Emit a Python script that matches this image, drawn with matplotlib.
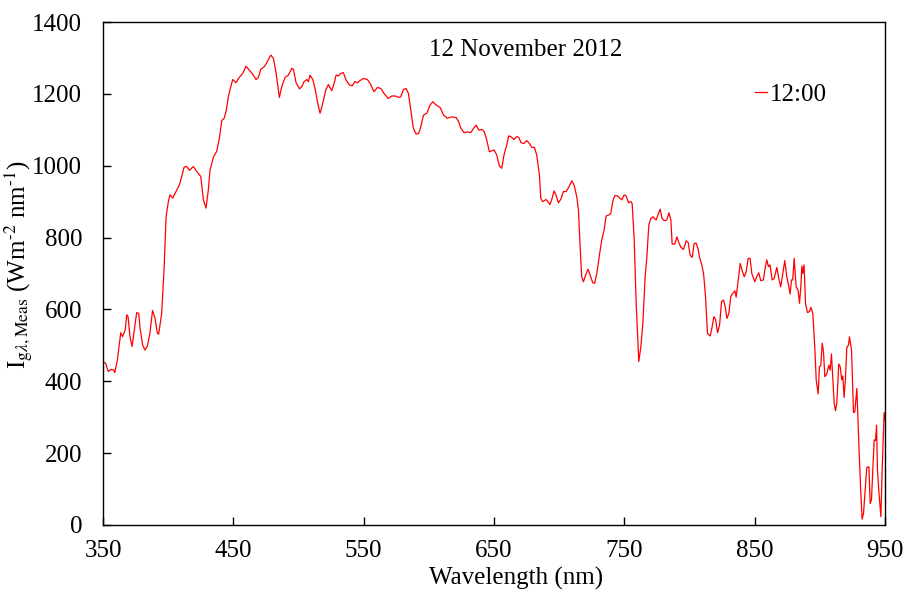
import matplotlib
matplotlib.use("Agg")
import matplotlib.pyplot as plt

plt.rcParams["font.family"] = ["Liberation Serif", "DejaVu Serif"]
plt.rcParams["mathtext.fontset"] = "stix"

# spectral irradiance, 12:00
wavelength = [
    350, 352, 354, 356, 358, 359, 361, 363.6, 365, 367, 368.2, 369.2, 370.7, 372.3,
    374.3, 375.8, 377.4, 378.4, 380.4, 382.2, 384, 386, 388, 389.9, 391.7, 392.7,
    395, 396.8, 398.4, 400.1, 401.4, 403.5, 406, 408.6, 410.4, 412.2, 414.2, 416.3,
    419.3, 421.9, 425, 427, 429, 430.8, 432.1, 434.7, 437.2, 439.3, 441.1, 442.9,
    444.4, 446.2, 448,
    449.5, 452, 453.9, 457.2, 459.7, 462.3, 464.8, 467.4, 469.2, 471, 473.8, 476.1,
    478.7, 480.7, 482.8, 485.3, 487.1, 489.7, 492.2, 494.8, 496.1, 498.1, 500.7,
    502.5, 504.2, 506.3, 507.6, 508.8, 510.9, 512.9, 514.5, 516.5, 518.6, 520.9,
    522.9, 525.5, 527.3, 528.8, 530.6, 532.4, 534.4, 536.5, 539, 541.1, 543.1,
    545.2, 547.2,
    549.8, 552.8, 554.9, 557.9, 560.5, 563.1, 565.6, 568.7, 571.5, 574.3, 576.6,
    578.4, 580.5, 582.5, 584.3, 586.1, 588.1, 590.2, 592.2, 593.8, 595.8, 598.4,
    600.9, 603, 605.5, 608.6, 611.2, 614.2, 617.5, 620.9, 622.9, 624.5, 627, 629.6,
    632.1, 634.2, 636.2, 638.3, 640.6, 642.4, 644.4, 646.4,
    650, 652, 654.1, 655.9, 657.6, 659.7, 661.2, 662.8, 665.3, 667.4, 668.9, 670.7,
    673, 675, 677.1, 678.9, 680.9, 682.7, 684.8, 685.8, 687.3, 689.9, 692.9, 694.5,
    696, 697.5, 699.3, 701.1, 703.2, 705.2, 707.3, 709.6, 711.4, 713.4, 714.7, 716,
    717.2, 718.5, 720.3, 722.1, 723.6, 725.7, 727.2, 728.8, 730.8, 732.6, 734.4,
    735.9, 738, 739.5, 741, 742.6, 744.6, 746.7,
    748, 749.8, 751.3, 753.1, 754.9, 755.9, 757.4, 759, 761, 762.6, 764.1, 765.9,
    767.2, 768.7, 770.2, 771.8, 774.3, 776.1, 777.4, 778.9, 780.5, 782.5, 784.1,
    785.6, 786.6, 788.7, 790.2, 791.7, 793.3, 795.3, 797.4, 798.9, 800.4, 802,
    803.5, 805, 806.6, 807.6, 809.1, 810.7, 812.2, 813.7, 815.8, 817.3, 818.6,
    819.9, 821.4, 823, 824.5, 826, 827.3, 828.6, 830.1, 831.6, 833.2, 834.7, 835.7,
    837.3, 838.8, 840.3, 841.9, 843.4, 844.9,
    846.4, 847.7, 850, 851.5, 853, 854.6, 856.6, 857.7, 859.2, 860.5, 861.7, 863.3,
    864.8, 866.9, 868.4, 869.9, 871.5, 873, 874.5, 875.6, 877.1, 878.1, 879.1,
    880.2, 881.7, 883.2, 884.3, 885.3, 886.1, 886.8, 887.8, 888.9, 890.4, 891.9,
    893, 894.5, 896, 897.1, 898.6, 899.6, 900.6, 901.7, 902.7, 903.7, 905.2, 906.8,
    907.8, 908.8, 909.8, 910.9, 911.9, 912.9, 914.4, 915.5, 916.7, 917.5, 918.5,
    919.6, 920.6, 921.9, 922.6, 924.2, 925.7, 926.7, 928.3, 929.8, 931.1, 932.3,
    933.4, 934.9, 935.9, 937.5, 938.5, 939.5, 940.5, 941.6, 942.6, 943.4, 944.1,
    945.1, 946.7, 947.7, 949.2, 950,
]
irradiance = [
    455, 450, 427, 433, 432, 424, 459, 535, 524, 543, 585, 580, 524, 497,
    552, 591, 589, 548, 501, 487, 498, 534, 597, 575, 534, 531,
    589, 710, 858, 900, 919, 910, 928, 947, 970, 996, 998, 987,
    998, 984, 970, 905, 882, 933, 988, 1024, 1040, 1077, 1126, 1132,
    1151, 1193, 1220,
    1240, 1231, 1243, 1257, 1277, 1266, 1255, 1240, 1246, 1268, 1276, 1290,
    1308, 1299, 1257, 1190, 1220, 1246, 1252, 1271, 1268, 1231, 1214,
    1220, 1234, 1240, 1234, 1252, 1240, 1211, 1178, 1146, 1174, 1211,
    1226, 1209, 1229, 1252, 1250, 1257, 1259, 1238, 1225, 1222, 1234,
    1231, 1237,
    1243, 1240, 1229, 1206, 1218, 1215, 1201, 1187, 1194, 1194, 1190,
    1192, 1212, 1215, 1201, 1155, 1104, 1088, 1090, 1109, 1141, 1146,
    1169, 1178, 1169, 1162, 1141, 1132, 1136, 1134, 1122, 1104, 1092, 1094,
    1092, 1104, 1113, 1099, 1101, 1095, 1071, 1039,
    1044, 1030, 999, 993, 1030, 1058, 1083, 1081, 1073, 1081, 1079, 1064,
    1062, 1070, 1062, 1051, 1051, 1030, 974, 909, 900, 906, 892, 909,
    930, 918, 897, 906, 928, 928, 940, 958, 946, 914, 877, 775,
    691, 677, 696, 712, 696, 674, 673, 700, 751, 793, 821,
    860, 863, 867, 900, 917, 916, 909,
    905, 919, 916, 897, 900, 895, 802, 617, 455, 496, 561, 691,
    747, 835, 853, 858, 849, 867, 879, 853, 847, 849, 869,
    849, 782, 782, 802, 786, 773, 767, 791, 786, 751, 745,
    784, 784, 767, 745, 728, 700, 635, 533, 526, 552, 580,
    572, 535, 557, 622, 626, 608, 575, 589, 637, 645, 652, 634,
    682, 728, 708, 691, 705, 742,
    742, 700, 677, 691, 702, 680, 682, 710, 738, 719, 724, 682,
    686, 717, 686, 663, 700, 736, 691, 673, 643, 682, 682,
    742, 663, 654, 617, 663, 721, 700, 724, 617, 591, 594,
    606, 589, 496, 404, 365, 441, 443, 506, 482, 413, 420, 445,
    431, 476, 413, 339, 318, 339, 448, 441, 404, 415, 355,
    413, 494, 501, 524, 487, 313, 315, 380, 227, 107, 16,
    32, 107, 160, 162, 60, 70, 153, 237, 235, 278, 153,
    97, 23, 153, 313, 290,
]
x_ticks = [350, 450, 550, 650, 750, 850, 950]
y_ticks = [0, 200, 400, 600, 800, 1000, 1200, 1400]

fig = plt.figure(figsize=(9.06, 5.92), dpi=100)
ax = fig.add_axes([0.1137, 0.1132, 0.8633, 0.8496])

ax.plot(wavelength, irradiance, color="#ff0000", linewidth=0.9, label="12:00")

ax.set_xlim(350, 950)
ax.set_ylim(0, 1400)
ax.set_xticks(x_ticks)
ax.set_yticks(y_ticks)
ax.tick_params(axis="both", direction="in", length=6, width=1, labelsize=18)
ax.tick_params(axis="x", pad=11)
ax.tick_params(axis="y", pad=15)
for s in ax.spines.values():
    s.set_linewidth(1.0)

ax.set_xlabel("Wavelength (nm)", fontsize=18)
ax.xaxis.set_label_coords(0.528, -0.084)
ax.set_ylabel(r"I$_{\mathrm{g}\lambda\mathrm{,Meas}}$ (Wm$^{\text{-2}}$ nm$^{\text{-1}}$)",
              fontsize=18)
ax.yaxis.set_label_coords(-0.087, 0.517)

ax.text(0.541, 0.944, "12 November 2012", transform=ax.transAxes,
        ha="center", va="center", fontsize=18)

ax.legend(loc="center left", bbox_to_anchor=(0.834, 0.855), frameon=False,
          fontsize=18, handlelength=0.45, handletextpad=0.15,
          borderpad=0, borderaxespad=0)

plt.savefig("out.png", dpi=100)
